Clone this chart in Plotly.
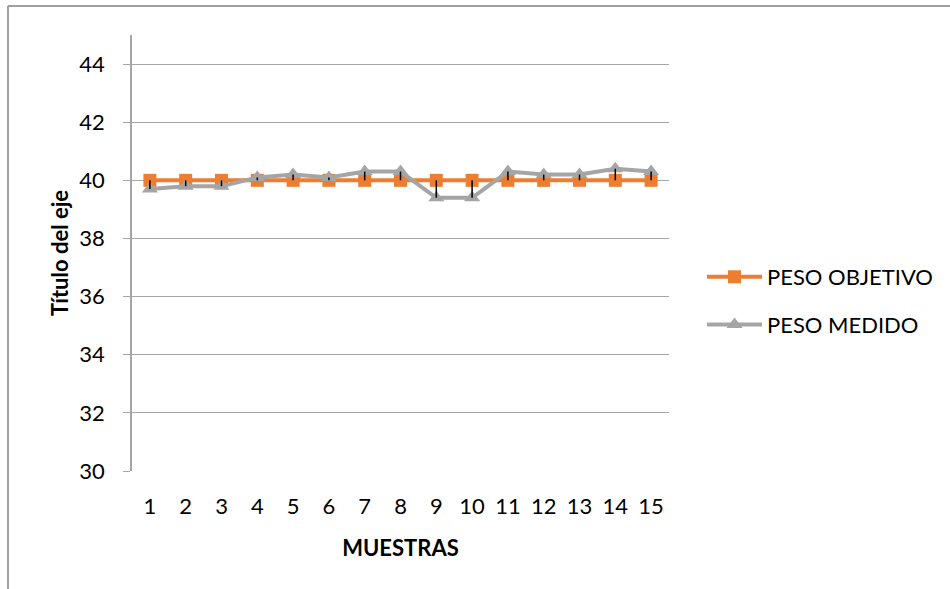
import plotly.graph_objects as go

# Sample numbers and weights
muestras = [str(i) for i in range(1, 16)]
peso_objetivo = [40] * 15
peso_medido = [39.7, 39.8, 39.8, 40.1, 40.2, 40.1, 40.3, 40.3,
               39.4, 39.4, 40.3, 40.2, 40.2, 40.4, 40.3]

ORANGE = "#ED7D31"
GRAY = "#A5A5A5"
FONT = "Lato"
FS = 22

# Plot-area geometry in pixels
W, H = 950, 589
L, R, T, B = 132, 281, 35, 118
PW, PH = W - L - R, H - T - B

fig = go.Figure()

fig.add_trace(go.Scatter(
    x=muestras, y=peso_objetivo, name="PESO OBJETIVO", mode="lines+markers",
    line=dict(color=ORANGE, width=4),
    marker=dict(symbol="square", size=13, color=ORANGE),
    legendgroup="a",
))
fig.add_trace(go.Scatter(
    x=muestras, y=peso_medido, name="PESO MEDIDO", mode="lines+markers",
    line=dict(color=GRAY, width=4),
    marker=dict(symbol="triangle-up", size=14, color=GRAY),
    legendgroup="b",
))

# High-low lines joining both series at each sample
hx, hy = [], []
for m, a, b in zip(muestras, peso_objetivo, peso_medido):
    hx += [m, m, None]
    hy += [a, b, None]
fig.add_trace(go.Scatter(
    x=hx, y=hy, mode="lines", line=dict(color="black", width=1.5),
    showlegend=False, hoverinfo="skip",
))

# Outer chart frame (left and top edges)
def px_x(p):
    return (p - L) / PW

def px_y(p):
    return (H - B - p) / PH

fig.add_shape(type="line", xref="paper", yref="paper",
              x0=px_x(8), x1=px_x(8), y0=px_y(600), y1=px_y(6),
              line=dict(color="#A0A0A0", width=2))
fig.add_shape(type="line", xref="paper", yref="paper",
              x0=px_x(8), x1=px_x(960), y0=px_y(6), y1=px_y(6),
              line=dict(color="#A0A0A0", width=2))

fig.update_layout(
    width=W, height=H,
    margin=dict(l=L, r=R, t=T, b=B),
    paper_bgcolor="white", plot_bgcolor="white",
    font=dict(family=FONT, size=FS, color="black"),
    showlegend=True,
    legend=dict(
        x=px_x(702), y=px_y(256), xanchor="left", yanchor="top",
        font=dict(family=FONT, size=FS, color="black"),
        tracegroupgap=16, itemwidth=55,
        bgcolor="rgba(0,0,0,0)",
    ),
    xaxis=dict(
        type="category", range=[-0.5, 14.5],
        showgrid=False, ticks="", showline=False, zeroline=False,
        tickfont=dict(family=FONT, size=FS), ticklabelstandoff=20,
        title=dict(text="<b>MUESTRAS</b>", font=dict(family=FONT, size=FS), standoff=22),
    ),
    yaxis=dict(
        range=[30, 45], tick0=30, dtick=2,
        showgrid=True, gridcolor="#A6A6A6", gridwidth=1.3,
        showline=True, linecolor="#A6A6A6", linewidth=1.5,
        ticks="outside", ticklen=7, tickcolor="#A6A6A6", tickwidth=1.3,
        zeroline=False,
        tickfont=dict(family=FONT, size=FS), ticklabelstandoff=14,
        title=dict(text="<b>Título del eje</b>", font=dict(family=FONT, size=FS), standoff=5),
    ),
)

fig.write_html("out.html")
